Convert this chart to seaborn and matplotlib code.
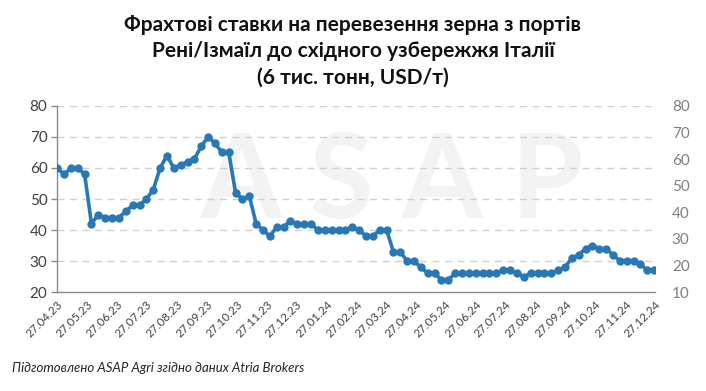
import pandas as pd
import numpy as np
import matplotlib.pyplot as plt
import matplotlib.dates as mdates
import seaborn as sns

# weekly freight rates, USD/t
start_date = '2023-04-27'
rates = [60, 58, 60, 60, 58, 42, 45, 44, 44, 44,
         46, 48, 48, 50, 53, 60, 64, 60, 61, 62,
         63, 67, 70, 68, 65, 65, 52, 50, 51, 42,
         40, 38, 41, 41, 43, 42, 42, 42, 40, 40,
         40, 40, 40, 41, 40, 38, 38, 40, 40, 33,
         33, 30, 30, 28, 26, 26, 24, 24, 26, 26,
         26, 26, 26, 26, 26, 27, 27, 26, 25, 26,
         26, 26, 26, 27, 28, 31, 32, 34, 35, 34,
         34, 32, 30, 30, 30, 29, 27, 27]
left_ticks = [20, 30, 40, 50, 60, 70, 80]
right_ticks = [10, 20, 30, 40, 50, 60, 70, 80]

title = ('Фрахтові ставки на перевезення зерна з портів\n'
         'Рені/Ізмаїл до східного узбережжя Італії\n'
         '(6 тис. тонн, USD/т)')
note = 'Підготовлено ASAP Agri згідно даних Atria Brokers'

df = pd.DataFrame({'date': pd.date_range(start_date, periods=len(rates), freq='7D'),
                   'rate': rates})
month_ticks = pd.date_range('2023-04-01', '2024-12-01', freq='MS') + pd.Timedelta(days=26)

sns.set_style('white')
plt.rcParams['font.family'] = ['Lato', 'DejaVu Sans']

fig = plt.figure(figsize=(7.06, 3.91), dpi=100)
ax = fig.add_axes([0.081, 0.253, 0.847, 0.476])

# watermark
ax.text(0.56, 0.58, 'A S A P', transform=ax.transAxes, fontsize=84, fontweight='bold',
        color='#f3f3f3', ha='center', va='center', zorder=0)

sns.lineplot(data=df, x='date', y='rate', ax=ax, color='#2878b5', linewidth=2.6,
             marker='o', markersize=6, markeredgewidth=0, zorder=3)

ax.set_ylim(20, 80)
ax.set_yticks(left_ticks)
ax.set_xlim(month_ticks[0], month_ticks[-1])
ax.set_xticks(month_ticks)
ax.xaxis.set_major_formatter(mdates.DateFormatter('%d.%m.%y'))
ax.set_xlabel('')
ax.set_ylabel('')
for t in left_ticks[1:]:
    ax.axhline(t, color='#d0d0d0', linewidth=1, linestyle=(0, (5, 4)), zorder=1)

for side in ['top', 'right']:
    ax.spines[side].set_visible(False)
for side in ['left', 'bottom']:
    ax.spines[side].set_color('#8c8c8c')
    ax.spines[side].set_linewidth(1)
ax.tick_params(axis='both', direction='out', length=4, width=1, color='#8c8c8c')
ax.tick_params(axis='y', labelsize=11, labelcolor='#404040', pad=3)
ax.tick_params(axis='x', labelsize=8.5, labelcolor='#404040', pad=1)
for lbl in ax.get_xticklabels():
    lbl.set_rotation(45)
    lbl.set_ha('right')
    lbl.set_rotation_mode('anchor')

ax2 = ax.twinx()
ax2.set_ylim(10, 80)
ax2.set_yticks(right_ticks)
for side in ax2.spines:
    ax2.spines[side].set_visible(False)
ax2.tick_params(axis='y', length=0, labelsize=11, labelcolor='#7f7f7f', pad=12)

fig.text(0.5, 0.962, title, ha='center', va='top', fontsize=15,
         fontweight='bold', color='#111111', linespacing=1.4)
fig.text(0.017, 0.06, note, ha='left', va='center', fontsize=9.5,
         style='italic', color='#262626')

plt.savefig('out.png', dpi=100)
